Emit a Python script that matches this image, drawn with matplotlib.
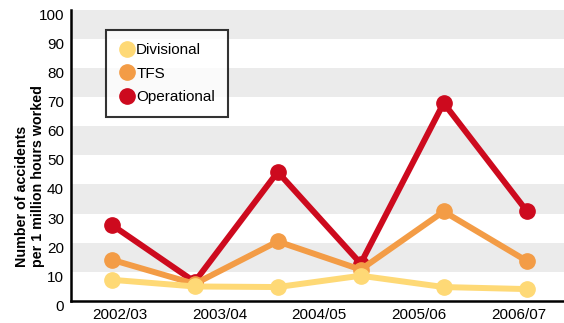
import matplotlib.pyplot as plt
from matplotlib.lines import Line2D
from matplotlib.transforms import ScaledTranslation

plt.rcParams['font.family'] = ['Liberation Sans', 'DejaVu Sans']

years = ['2002/03', '2003/04', '2004/05', '2005/06', '2006/07']
divisional = [7.2, 4.9, 4.7, 8.6, 4.7, 4.0]
tfs = [14.1, 5.8, 20.4, 10.7, 30.7, 13.7]
operational = [26.1, 6.5, 44.3, 12.8, 68.0, 30.9]

colors = {'Divisional': '#fed976', 'TFS': '#f39c46', 'Operational': '#cd0a1e'}

fig = plt.figure(figsize=(5.64, 3.23), dpi=100)
ax = fig.add_axes([0.126, 0.069, 0.874, 0.9])

# alternating grey bands every 10 units
for lo in range(10, 100, 20):
    ax.axhspan(lo, lo + 10, color='#ebebeb', zorder=0, lw=0)

x = list(range(len(operational)))
ax.plot(x, operational, color=colors['Operational'], lw=4.3, marker='o',
        ms=11, zorder=3)
ax.plot(x, tfs, color=colors['TFS'], lw=4.3, marker='o', ms=11, zorder=3)
ax.plot(x, divisional, color=colors['Divisional'], lw=4.3, marker='o',
        ms=11, zorder=4)

ax.set_xlim(-0.49, 5.45)
ax.set_ylim(0, 100)
ax.set_yticks(range(0, 101, 10))
ax.set_xticks([0.1, 1.3, 2.5, 3.7, 4.9])
ax.set_xticklabels(years)
ax.tick_params(length=0, labelsize=11)
ax.tick_params(axis='x', pad=5)
ax.tick_params(axis='y', pad=5)
# y labels sit a little below their band edges
for lab in ax.get_yticklabels():
    lab.set_transform(lab.get_transform() +
                      ScaledTranslation(0, -0.045, fig.dpi_scale_trans))
for s in ['top', 'right']:
    ax.spines[s].set_visible(False)
for s in ['left', 'bottom']:
    ax.spines[s].set_linewidth(1.8)

# axis title, both lines start at the same height
ax.text(-0.083, 0.117, 'Number of accidents\nper 1 million hours worked',
        transform=ax.transAxes, rotation=90, rotation_mode='anchor',
        ha='left', va='center', multialignment='left', fontsize=10.3,
        fontweight='bold', linespacing=1.12)

handles = [Line2D([], [], ls='none', marker='o', ms=11, color=colors[n],
                  label=n) for n in colors]
leg = ax.legend(handles=handles, loc='upper left',
                bbox_to_anchor=(0.07, 0.931), fontsize=11, frameon=True,
                fancybox=False, handletextpad=0.05, borderpad=0.85,
                labelspacing=0.62, handlelength=1.1, borderaxespad=0)
leg.get_frame().set_edgecolor('black')
leg.get_frame().set_linewidth(1.5)

fig.savefig('out.png', dpi=100)
